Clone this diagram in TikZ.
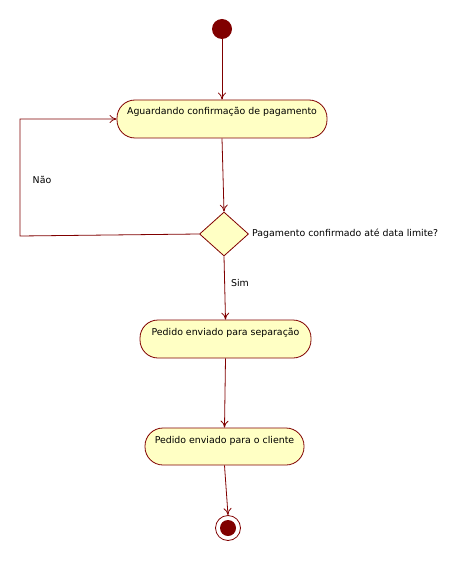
\documentclass[tikz,border=0pt]{standalone}
\usepackage{fontspec}
\setmainfont{DejaVu Sans}
\usetikzlibrary{shapes.geometric,arrows.meta}
\definecolor{umlline}{RGB}{128,0,0}
\definecolor{umlfill}{RGB}{255,255,196}
\begin{document}
\begin{tikzpicture}[x=1pt,y=-1pt,
  every node/.style={font=\fontsize{9.4}{11}\selectfont},
  act/.style={draw=umlline,fill=umlfill,line width=0.8pt,rounded corners=18pt,
    inner xsep=4pt,inner ysep=3pt,text height=12pt,text depth=20pt,align=center},
  dec/.style={draw=umlline,fill=umlfill,line width=0.8pt,diamond,inner sep=0pt,
    minimum width=49pt,minimum height=44pt},
  flow/.style={draw=umlline,line width=0.8pt,-{To[length=7pt,width=8pt]}},
  lbl/.style={inner sep=0pt,text=black}]
\useasboundingbox (0,0) rectangle (463,561);
\node[circle,fill=umlline,minimum size=20pt,inner sep=0pt] (start) at (222,29) {};
\node[act,minimum width=210pt] (n1) at (222,119) {Aguardando confirmação de pagamento};
\node[dec] (d) at (224,234) {};
\node[lbl,anchor=west] (dl) at (252,234) {Pagamento confirmado até data limite?};
\node[act,minimum width=171pt] (n2) at (225.5,339) {Pedido enviado para separação};
\node[act,minimum width=159pt,text depth=19pt] (n3) at (224.5,446.5) {Pedido enviado para o cliente};
\node[circle,draw=umlline,line width=0.8pt,minimum size=25pt,inner sep=0pt,fill=white] (end) at (228,528) {};
\node[circle,fill=umlline,minimum size=16pt,inner sep=0pt] (endin) at (end) {};
\coordinate (c1) at (20,236);
\node[lbl] (no) at (42,180) {Não};
\node[lbl] (yes) at (240,283) {Sim};
\draw[flow] (start) -- (n1.north);
\draw[flow] (n1.south) -- (d.north);
\draw[flow] (d.west) -- (c1) |- (n1.west);
\draw[flow] (d.south) -- (n2.north);
\draw[flow] (n2.south) -- (n3.north);
\draw[flow] (n3.south) -- (end.north);
\end{tikzpicture}
\end{document}
